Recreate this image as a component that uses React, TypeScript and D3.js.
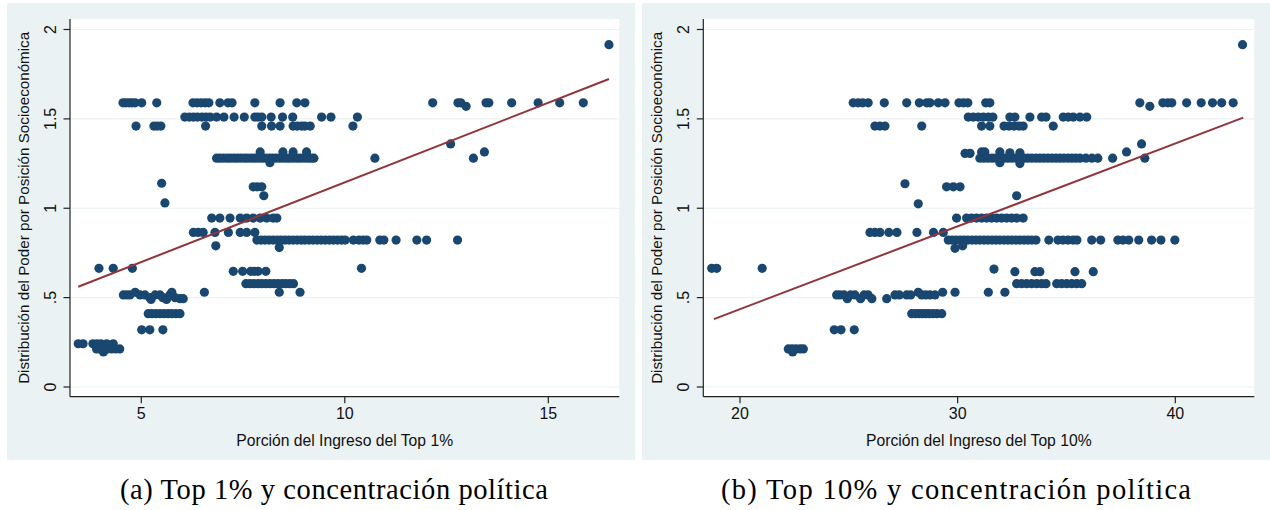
import React from 'react';
import * as d3 from 'd3';

// eje y comun a los dos paneles
const yTicks = [0, 0.5, 1, 1.5, 2];
const yTickLabels = ['0', '.5', '1', '1.5', '2'];

const xTicksTop1 = [5, 10, 15];
const xTicksTop10 = [20, 30, 40];

// (porcion del ingreso del top 1%, distribucion del poder)
const pointsTop1: [number, number][] = [
  // 1.59
  [4.55, 1.59], [4.62, 1.59], [4.70, 1.59], [4.77, 1.59], [4.85, 1.59], [5.01, 1.59], [5.38, 1.59],
  [6.27, 1.59], [6.37, 1.59], [6.47, 1.59], [6.57, 1.59], [6.66, 1.59], [6.93, 1.59], [7.13, 1.59],
  [7.23, 1.59], [7.79, 1.59], [8.41, 1.59], [8.82, 1.59], [9.02, 1.59], [12.16, 1.59], [12.78, 1.59],
  [12.85, 1.59], [13.47, 1.59], [13.54, 1.59], [14.10, 1.59], [14.75, 1.59], [15.28, 1.59], [15.86, 1.59],
  [12.98, 1.57], [16.49, 1.915],
  // 1.51
  [6.07, 1.51], [6.18, 1.51], [6.28, 1.51], [6.38, 1.51], [6.49, 1.51], [6.59, 1.51], [6.69, 1.51],
  [6.85, 1.51], [7.03, 1.51], [7.28, 1.51], [7.53, 1.51], [7.79, 1.51], [7.87, 1.51], [7.96, 1.51],
  [8.19, 1.51], [8.47, 1.51], [8.72, 1.51], [9.43, 1.51], [9.66, 1.51], [10.31, 1.51],
  // 1.46
  [4.87, 1.46], [5.31, 1.46], [5.39, 1.46], [5.48, 1.46], [6.58, 1.46], [7.96, 1.46], [8.20, 1.46],
  [8.41, 1.46], [8.73, 1.46], [8.83, 1.46], [8.94, 1.46], [9.02, 1.46], [9.15, 1.46], [10.20, 1.46],
  [12.60, 1.36], [13.43, 1.315], [13.16, 1.28], [10.74, 1.28],
  // 1.28
  [6.85, 1.28], [6.93, 1.28], [7.02, 1.28], [7.11, 1.28], [7.19, 1.28], [7.28, 1.28], [7.36, 1.28],
  [7.45, 1.28], [7.54, 1.28], [7.62, 1.28], [7.71, 1.28], [7.79, 1.28], [7.88, 1.28], [7.97, 1.28],
  [8.05, 1.28], [8.14, 1.28], [8.22, 1.28], [8.31, 1.28], [8.40, 1.28], [8.48, 1.28], [8.57, 1.28],
  [8.65, 1.28], [8.74, 1.28], [8.83, 1.28], [8.91, 1.28], [9.00, 1.28], [9.09, 1.28], [9.17, 1.28],
  [9.24, 1.28], [7.92, 1.315], [8.48, 1.315], [8.73, 1.315], [9.06, 1.315], [8.16, 1.255],
  // 1.14 - 1.03
  [5.50, 1.14], [5.58, 1.03], [7.75, 1.12], [7.85, 1.12], [7.96, 1.12], [8.01, 1.07],
  // 0.95
  [6.73, 0.945], [6.93, 0.945], [7.18, 0.945], [7.43, 0.945], [7.59, 0.945], [7.75, 0.945], [7.92, 0.945],
  [8.08, 0.945], [8.24, 0.945], [8.33, 0.945],
  // 0.87
  [6.28, 0.865], [6.40, 0.865], [6.52, 0.865], [6.81, 0.865], [7.14, 0.865], [7.43, 0.865], [7.59, 0.865],
  [7.79, 0.865], [6.83, 0.79], [8.39, 0.78],
  // 0.82
  [7.84, 0.822], [7.94, 0.822], [8.04, 0.822], [8.14, 0.822], [8.24, 0.822], [8.34, 0.822], [8.43, 0.822],
  [8.53, 0.822], [8.63, 0.822], [8.73, 0.822], [8.83, 0.822], [8.93, 0.822], [9.02, 0.822], [9.12, 0.822],
  [9.22, 0.822], [9.32, 0.822], [9.42, 0.822], [9.52, 0.822], [9.62, 0.822], [9.72, 0.822], [9.82, 0.822],
  [9.92, 0.822], [10.01, 0.822], [10.21, 0.822], [10.35, 0.822], [10.45, 0.822], [10.54, 0.822],
  [10.86, 0.822], [10.96, 0.822], [11.26, 0.822], [11.77, 0.822], [12.01, 0.822], [12.77, 0.822],
  // 0.66
  [3.96, 0.664], [4.31, 0.664], [4.78, 0.664], [10.41, 0.664],
  [7.26, 0.647], [7.49, 0.647], [7.69, 0.647], [7.78, 0.647], [7.87, 0.647], [8.06, 0.647],
  // 0.58
  [7.57, 0.578], [7.67, 0.578], [7.77, 0.578], [7.87, 0.578], [7.96, 0.578], [8.06, 0.578], [8.16, 0.578],
  [8.26, 0.578], [8.36, 0.578], [8.46, 0.578], [8.55, 0.578], [8.65, 0.578], [8.74, 0.578],
  [6.55, 0.53], [8.39, 0.53], [8.90, 0.53],
  // 0.52
  [4.56, 0.515], [4.64, 0.515], [4.72, 0.515], [4.85, 0.53], [4.97, 0.515], [5.09, 0.515], [5.21, 0.50],
  [5.24, 0.49], [5.34, 0.515], [5.46, 0.515], [5.53, 0.50], [5.62, 0.49], [5.70, 0.515], [5.75, 0.53],
  [5.83, 0.50], [5.95, 0.494], [6.03, 0.494],
  // 0.41
  [5.17, 0.41], [5.26, 0.41], [5.36, 0.41], [5.46, 0.41], [5.56, 0.41], [5.66, 0.41], [5.75, 0.41],
  [5.85, 0.41], [5.95, 0.41],
  [5.01, 0.32], [5.21, 0.32], [5.53, 0.32],
  // 0.24
  [3.45, 0.242], [3.57, 0.242], [3.81, 0.242], [3.91, 0.242], [4.01, 0.242], [4.15, 0.242], [4.31, 0.242],
  [3.90, 0.213], [3.97, 0.213], [4.17, 0.213], [4.27, 0.213], [4.37, 0.213], [4.47, 0.213], [4.07, 0.196],
];

const fitTop1: [number, number][] = [[3.45, 0.561], [16.49, 1.723]];

// (porcion del ingreso del top 10%, distribucion del poder)
const pointsTop10: [number, number][] = [
  // 1.59
  [25.20, 1.59], [25.43, 1.59], [25.64, 1.59], [25.89, 1.59], [26.63, 1.59], [27.66, 1.59], [28.24, 1.59],
  [28.58, 1.59], [28.73, 1.59], [29.11, 1.59], [29.42, 1.59], [30.06, 1.59], [30.27, 1.59], [30.47, 1.59],
  [31.29, 1.59], [31.48, 1.59], [38.37, 1.59], [39.43, 1.59], [39.66, 1.59], [39.84, 1.59], [40.52, 1.59],
  [41.19, 1.59], [41.71, 1.59], [42.13, 1.59], [42.66, 1.59], [38.83, 1.57], [43.09, 1.915],
  // 1.51
  [30.49, 1.51], [30.72, 1.51], [30.95, 1.51], [31.18, 1.51], [31.41, 1.51], [31.62, 1.51], [32.40, 1.51],
  [32.63, 1.51], [33.32, 1.51], [33.86, 1.51], [34.06, 1.51], [34.85, 1.51], [35.08, 1.51], [35.31, 1.51],
  [35.62, 1.51], [35.93, 1.51],
  // 1.46
  [26.20, 1.46], [26.43, 1.46], [26.66, 1.46], [28.35, 1.46], [31.10, 1.46], [31.48, 1.46], [32.13, 1.46],
  [32.36, 1.46], [32.59, 1.46], [32.82, 1.46], [33.01, 1.46], [34.39, 1.46],
  [38.45, 1.36], [37.76, 1.315], [37.12, 1.28], [38.60, 1.28],
  // 1.28
  [31.02, 1.28], [31.21, 1.28], [31.39, 1.28], [31.58, 1.28], [31.76, 1.28], [31.94, 1.28], [32.13, 1.28],
  [32.31, 1.28], [32.49, 1.28], [32.68, 1.28], [32.86, 1.28], [33.05, 1.28], [33.23, 1.28], [33.41, 1.28],
  [33.60, 1.28], [33.78, 1.28], [33.96, 1.28], [34.15, 1.28], [34.33, 1.28], [34.52, 1.28], [34.70, 1.28],
  [34.88, 1.28], [35.07, 1.28], [35.25, 1.28], [35.43, 1.28], [35.62, 1.28], [35.89, 1.28], [36.17, 1.28],
  [36.44, 1.28],
  [30.34, 1.307], [30.57, 1.307], [31.10, 1.315], [31.25, 1.315], [31.94, 1.315], [32.40, 1.31], [32.86, 1.31],
  [32.86, 1.25], [31.94, 1.255],
  // 1.14 - 1.03
  [27.58, 1.137], [28.19, 1.025], [29.49, 1.12], [29.80, 1.12], [30.11, 1.12], [32.71, 1.07],
  // 0.95
  [29.95, 0.945], [30.41, 0.945], [30.64, 0.945], [30.87, 0.945], [31.10, 0.945], [31.33, 0.945],
  [31.56, 0.945], [31.79, 0.945], [32.02, 0.945], [32.25, 0.945], [32.48, 0.945], [32.71, 0.945],
  [33.01, 0.945],
  // 0.87
  [25.97, 0.865], [26.20, 0.865], [26.43, 0.865], [26.84, 0.865], [27.21, 0.865], [28.13, 0.865],
  [28.89, 0.865], [29.34, 0.865],
  // 0.82
  [29.57, 0.822], [29.74, 0.822], [29.92, 0.822], [30.11, 0.822], [30.29, 0.822], [30.47, 0.822],
  [30.66, 0.822], [30.84, 0.822], [31.02, 0.822], [31.21, 0.822], [31.39, 0.822], [31.58, 0.822],
  [31.76, 0.822], [31.94, 0.822], [32.13, 0.822], [32.31, 0.822], [32.49, 0.822], [32.68, 0.822],
  [32.86, 0.822], [33.05, 0.822], [33.23, 0.822], [33.41, 0.822], [33.60, 0.822], [34.19, 0.822],
  [34.61, 0.822], [34.84, 0.822], [35.07, 0.822], [35.30, 0.822], [35.48, 0.822], [36.16, 0.822],
  [36.57, 0.822], [37.36, 0.822], [37.59, 0.822], [37.86, 0.822], [38.32, 0.822], [38.91, 0.822],
  [39.34, 0.822], [39.98, 0.822], [29.88, 0.776], [30.23, 0.79],
  // 0.66
  [18.70, 0.664], [18.93, 0.664], [21.02, 0.664], [31.67, 0.66], [32.63, 0.645], [33.55, 0.645],
  [33.78, 0.645], [35.39, 0.645], [36.23, 0.645],
  // 0.58
  [32.71, 0.578], [32.94, 0.578], [33.17, 0.578], [33.40, 0.578], [33.63, 0.578], [33.86, 0.578],
  [34.06, 0.578], [34.55, 0.578], [34.78, 0.578], [35.01, 0.578], [35.24, 0.578], [35.47, 0.578],
  [35.70, 0.578],
  [29.31, 0.53], [29.88, 0.53], [31.41, 0.53], [32.17, 0.53],
  // 0.52
  [24.44, 0.515], [24.59, 0.515], [24.78, 0.515], [24.93, 0.494], [25.08, 0.515], [25.28, 0.515],
  [25.54, 0.494], [25.70, 0.515], [25.89, 0.515], [26.06, 0.494], [26.74, 0.494], [27.12, 0.515],
  [27.32, 0.515], [27.66, 0.515], [27.84, 0.515], [28.19, 0.53], [28.35, 0.515], [28.54, 0.515],
  [28.73, 0.515], [28.96, 0.515],
  // 0.41
  [27.89, 0.41], [28.06, 0.41], [28.22, 0.41], [28.38, 0.41], [28.54, 0.41], [28.70, 0.41], [28.87, 0.41],
  [29.05, 0.41], [29.27, 0.41],
  [24.33, 0.32], [24.64, 0.32], [25.25, 0.32],
  // 0.21
  [22.22, 0.213], [22.39, 0.213], [22.57, 0.213], [22.76, 0.213], [22.91, 0.213], [22.42, 0.196],
];

const fitTop10: [number, number][] = [[18.8, 0.38], [43.12, 1.507]];

const SANS = '"Liberation Sans", Arial, Helvetica, sans-serif';
const SERIF = '"Liberation Serif", "Times New Roman", serif';
const BG = '#eaf2f3';
const NAVY = '#1a476f';
const MAROON = '#90353b';

type PanelProps = {
  bg: [number, number];
  plotX: [number, number];
  xTicks: number[];
  xTickAt: [number, number];
  points: [number, number][];
  fit: [number, number][];
  xTitle: string;
  caption: string;
  captionX: number;
  captionW: number;
};

const PLOT_TOP = 19;
const PLOT_BOTTOM = 396.7;

const Panel = ({ bg, plotX, xTicks, xTickAt, points, fit, xTitle, caption, captionX, captionW }: PanelProps) => {
  const x = d3.scaleLinear().domain([xTicks[0], xTicks[xTicks.length - 1]]).range(xTickAt);
  const y = d3.scaleLinear().domain([0, 2]).range([387, 29.5]);
  const line = d3.line<[number, number]>().x(d => x(d[0])).y(d => y(d[1]));
  const [left, right] = plotX;
  const midX = (left + right) / 2;
  const midY = (PLOT_TOP + PLOT_BOTTOM) / 2;

  return (
    <g>
      <rect x={bg[0]} y={3} width={bg[1] - bg[0]} height={457} fill={BG} />
      <rect x={left} y={PLOT_TOP} width={right - left} height={PLOT_BOTTOM - PLOT_TOP} fill="#fff" />
      {yTicks.map(t => (
        <line key={'g' + t} x1={left} x2={right} y1={y(t)} y2={y(t)} stroke={BG} strokeWidth={1.2} />
      ))}
      {points.map((d, i) => (
        <circle key={i} cx={x(d[0])} cy={y(d[1])} r={4.6} fill={NAVY} />
      ))}
      <path d={line(fit) || ''} fill="none" stroke={MAROON} strokeWidth={2} />
      <line x1={left} x2={left} y1={PLOT_TOP} y2={PLOT_BOTTOM} stroke="#222" strokeWidth={1.2} />
      <line x1={left} x2={right} y1={PLOT_BOTTOM} y2={PLOT_BOTTOM} stroke="#222" strokeWidth={1.2} />
      {yTicks.map((t, i) => (
        <g key={'y' + t}>
          <line x1={left - 6.5} x2={left} y1={y(t)} y2={y(t)} stroke="#222" strokeWidth={1.2} />
          <text
            transform={`translate(${left - 14.5},${y(t)}) rotate(-90)`}
            textAnchor="middle"
            fontFamily={SANS}
            fontSize={16}
            fill="#111"
          >
            {yTickLabels[i]}
          </text>
        </g>
      ))}
      {xTicks.map(t => (
        <g key={'x' + t}>
          <line x1={x(t)} x2={x(t)} y1={PLOT_BOTTOM} y2={PLOT_BOTTOM + 6.5} stroke="#222" strokeWidth={1.2} />
          <text x={x(t)} y={418.5} textAnchor="middle" fontFamily={SANS} fontSize={16} fill="#111">
            {t}
          </text>
        </g>
      ))}
      <text x={midX} y={446} textAnchor="middle" fontFamily={SANS} fontSize={15.7} fill="#111">
        {xTitle}
      </text>
      <text
        transform={`translate(${left - 41.5},${midY}) rotate(-90)`}
        textAnchor="middle"
        fontFamily={SANS}
        fontSize={15.2}
        fill="#111"
      >
        Distribución del Poder por Posición Socioeconómica
      </text>
      <text
        x={captionX - captionW / 2}
        y={499}
        textLength={captionW}
        lengthAdjust="spacing"
        fontFamily={SERIF}
        fontSize={28.5}
        fill="#000"
      >
        {caption}
      </text>
    </g>
  );
};

export default function App() {
  return (
    <svg
      width={1270}
      height={510}
      style={{ position: 'absolute', left: 0, top: 0, background: '#fff' }}
    >
      <Panel
        bg={[7, 635]}
        plotX={[70, 619.3]}
        xTicks={xTicksTop1}
        xTickAt={[141.3, 548.3]}
        points={pointsTop1}
        fit={fitTop1}
        xTitle="Porción del Ingreso del Top 1%"
        caption="(a) Top 1% y concentración política"
        captionX={334}
        captionW={428}
      />
      <Panel
        bg={[642, 1270]}
        plotX={[703.3, 1254.3]}
        xTicks={xTicksTop10}
        xTickAt={[740, 1175.3]}
        points={pointsTop10}
        fit={fitTop10}
        xTitle="Porción del Ingreso del Top 10%"
        caption="(b) Top 10% y concentración política"
        captionX={956}
        captionW={470}
      />
    </svg>
  );
}
